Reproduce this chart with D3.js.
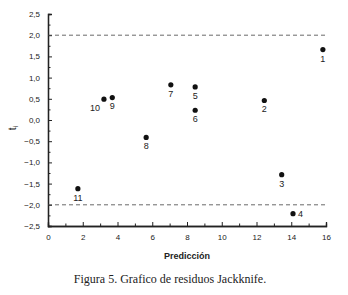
<!DOCTYPE html>
<html>
<head>
<meta charset="utf-8">
<script src="https://cdn.jsdelivr.net/npm/d3@7"></script>
<style>
    body { margin: 0; background: #fff; }
    svg text { font-family: 'Liberation Sans', Arial, sans-serif; fill: #222; }
    .caption { font-family: 'Liberation Serif', 'Times New Roman', serif; }
</style>
</head>
<body>
<svg id="chart"></svg>
<script>
// jackknife residuals: observation id, prediction, t_i
const ids = ['1', '2', '3', '4', '5', '6', '7', '8', '9', '10', '11']
const predicted = [15.82, 12.45, 13.45, 14.1, 8.47, 8.47, 7.07, 5.65, 3.7, 3.22, 1.72]
const residuals = [1.66, 0.46, -1.29, -2.21, 0.78, 0.23, 0.83, -0.41, 0.53, 0.49, -1.62]
const limits = [2, -2]
const xTicks = [0, 2, 4, 6, 8, 10, 12, 14, 16]
const yTicks = [2.5, 2, 1.5, 1, 0.5, 0, -0.5, -1, -1.5, -2, -2.5]

const data = ids.map((id, i) => ({id: id, x: predicted[i], y: residuals[i]}))

const width = 348, height = 295
const margin = {top: 14, right: 22, bottom: 69, left: 48}
const w = width - margin.left - margin.right
const h = height - margin.top - margin.bottom

const svg = d3.select('#chart')
    .attr('width', width)
    .attr('height', height)

const chart = svg.append('g')
    .attr('transform', `translate(${margin.left},${margin.top})`)

const xScale = d3.scaleLinear().domain([0, 16]).range([0, w])
const yScale = d3.scaleLinear().domain([-2.5, 2.5]).range([h, 0])

const fmt = d3.format('.1f')
const comma = d => fmt(d).replace('.', ',')

//minor ticks first, then the labelled ones
chart.append('g')
    .attr('transform', `translate(0,${h})`)
    .call(d3.axisTop(xScale).tickValues(d3.range(1, 16, 2)).tickSize(2.5).tickFormat(''))
chart.append('g')
    .attr('transform', `translate(0,${h})`)
    .call(d3.axisTop(xScale).tickValues(xTicks).tickSize(4).tickFormat(d3.format('d')))
    .call(g => g.selectAll('text').attr('y', 8).attr('dy', '0.71em'))

chart.append('g')
    .call(d3.axisRight(yScale).tickValues(d3.range(-2.25, 2.5, 0.5)).tickSize(2.5).tickFormat(''))
chart.append('g')
    .call(d3.axisRight(yScale).tickValues(yTicks).tickSize(4).tickFormat(comma))
    .call(g => g.selectAll('text').attr('x', -8).attr('text-anchor', 'end'))

chart.selectAll('.domain').attr('stroke', '#222').attr('stroke-width', 1.3)
chart.selectAll('.tick line').attr('stroke', '#222')
chart.selectAll('.tick text').attr('font-size', 8).attr('fill', '#222')

chart.selectAll('.limit')
    .data(limits)
    .join('line')
    .attr('class', 'limit')
    .attr('x1', xScale(0))
    .attr('x2', xScale(16))
    .attr('y1', d => yScale(d))
    .attr('y2', d => yScale(d))
    .attr('stroke', '#444')
    .attr('stroke-width', 0.8)
    .attr('stroke-dasharray', '4,3')

chart.selectAll('.dot')
    .data(data)
    .join('circle')
    .attr('class', 'dot')
    .attr('cx', d => xScale(d.x))
    .attr('cy', d => yScale(d.y))
    .attr('r', 2.6)
    .attr('fill', '#111')

//label offsets, most sit under their point
const labelShift = {'4': [5, 3], '10': [-4, 12], '9': [0, 11]}
chart.selectAll('.lbl')
    .data(data)
    .join('text')
    .attr('class', 'lbl')
    .attr('x', d => xScale(d.x) + (labelShift[d.id] ? labelShift[d.id][0] : 0))
    .attr('y', d => yScale(d.y) + (labelShift[d.id] ? labelShift[d.id][1] : 12))
    .attr('text-anchor', d => d.id === '4' ? 'start' : (d.id === '10' ? 'end' : 'middle'))
    .attr('font-size', 9)
    .text(d => d.id)

svg.append('text')
    .attr('x', 187)
    .attr('y', 259)
    .attr('text-anchor', 'middle')
    .attr('font-size', 9)
    .attr('font-weight', 'bold')
    .text('Predicción')

const yl = svg.append('text')
    .attr('transform', 'translate(16,128) rotate(-90)')
    .attr('text-anchor', 'middle')
    .attr('font-size', 10)
yl.append('tspan').text('t')
yl.append('tspan').attr('font-size', 7).attr('dy', 2).text('i')

svg.append('text')
    .attr('class', 'caption')
    .attr('x', 170)
    .attr('y', 283)
    .attr('text-anchor', 'middle')
    .attr('font-size', 12)
    .text('Figura 5. Grafico de residuos Jackknife.')
</script>
</body>
</html>
